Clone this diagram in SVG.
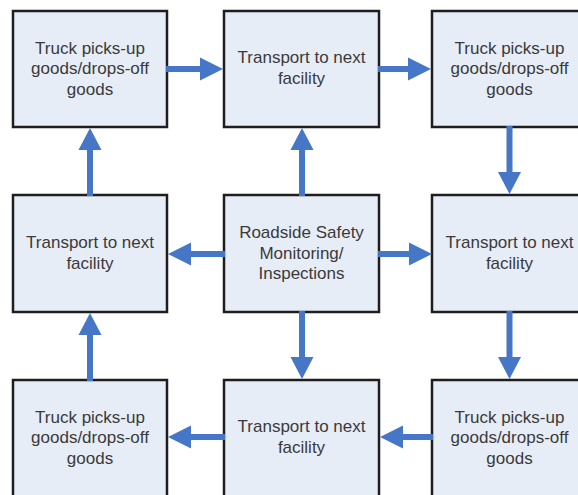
<svg xmlns="http://www.w3.org/2000/svg" width="578" height="495" viewBox="0 0 578 495">
<defs>
<style>
.box{fill:#E7EDF7;stroke:#1e1e1e;stroke-width:2.5}
.lbl{font-family:"Liberation Sans",Arial,sans-serif;font-size:17px;fill:#3a3a3a;text-anchor:middle}
.sh{stroke:#4677C6;stroke-width:6;fill:none}
.hd{fill:#4677C6}
</style>
</defs>
<rect width="578" height="495" fill="#ffffff"/>
<g id="n_tl"><rect class="box" x="13" y="11" width="154" height="116"/><text class="lbl"><tspan x="90" y="53.5">Truck picks-up</tspan><tspan x="90" y="74">goods/drops-off</tspan><tspan x="90" y="94.5">goods</tspan></text></g>
<g id="n_tm"><rect class="box" x="224" y="11" width="155" height="116"/><text class="lbl"><tspan x="301.5" y="63">Transport to next</tspan><tspan x="301.5" y="83.5">facility</tspan></text></g>
<g id="n_tr"><rect class="box" x="432" y="11" width="155" height="116"/><text class="lbl"><tspan x="509.5" y="53.5">Truck picks-up</tspan><tspan x="509.5" y="74">goods/drops-off</tspan><tspan x="509.5" y="94.5">goods</tspan></text></g>
<g id="n_ml"><rect class="box" x="13" y="195" width="154" height="117"/><text class="lbl"><tspan x="90" y="248">Transport to next</tspan><tspan x="90" y="268.5">facility</tspan></text></g>
<g id="n_mm"><rect class="box" x="224" y="195" width="155" height="117"/><text class="lbl"><tspan x="301.5" y="238">Roadside Safety</tspan><tspan x="301.5" y="258.5">Monitoring/</tspan><tspan x="301.5" y="279">Inspections</tspan></text></g>
<g id="n_mr"><rect class="box" x="432" y="195" width="155" height="117"/><text class="lbl"><tspan x="509.5" y="248">Transport to next</tspan><tspan x="509.5" y="268.5">facility</tspan></text></g>
<g id="n_bl"><rect class="box" x="13" y="380" width="154" height="118"/><text class="lbl"><tspan x="90" y="422.5">Truck picks-up</tspan><tspan x="90" y="443">goods/drops-off</tspan><tspan x="90" y="463.5">goods</tspan></text></g>
<g id="n_bm"><rect class="box" x="224" y="380" width="155" height="118"/><text class="lbl"><tspan x="301.5" y="432">Transport to next</tspan><tspan x="301.5" y="452.5">facility</tspan></text></g>
<g id="n_br"><rect class="box" x="432" y="380" width="155" height="118"/><text class="lbl"><tspan x="509.5" y="422.5">Truck picks-up</tspan><tspan x="509.5" y="443">goods/drops-off</tspan><tspan x="509.5" y="463.5">goods</tspan></text></g>
<g id="connectors">
<line class="sh" x1="166" y1="69" x2="202" y2="69"/><polygon class="hd" points="200,57.5 223,69 200,80.5"/>
<line class="sh" x1="378" y1="69" x2="410" y2="69"/><polygon class="hd" points="408,57.5 431,69 408,80.5"/>
<line class="sh" x1="509.5" y1="126" x2="509.5" y2="174"/><polygon class="hd" points="498,172 521,172 509.5,194"/>
<line class="sh" x1="302" y1="196" x2="302" y2="148"/><polygon class="hd" points="290.5,150 313.5,150 302,128"/>
<line class="sh" x1="225" y1="254" x2="189" y2="254"/><polygon class="hd" points="191,242.5 168,254 191,265.5"/>
<line class="sh" x1="378" y1="254" x2="411" y2="254"/><polygon class="hd" points="409,242.5 432,254 409,265.5"/>
<line class="sh" x1="302" y1="311" x2="302" y2="359"/><polygon class="hd" points="290.5,357 313.5,357 302,379"/>
<line class="sh" x1="509.5" y1="311" x2="509.5" y2="359"/><polygon class="hd" points="498,357 521,357 509.5,379"/>
<line class="sh" x1="433" y1="437" x2="401" y2="437"/><polygon class="hd" points="403,425.5 380,437 403,448.5"/>
<line class="sh" x1="225" y1="437" x2="189" y2="437"/><polygon class="hd" points="191,425.5 168,437 191,448.5"/>
<line class="sh" x1="90" y1="381" x2="90" y2="333"/><polygon class="hd" points="78.5,335 101.5,335 90,313"/>
<line class="sh" x1="90" y1="196" x2="90" y2="148"/><polygon class="hd" points="78.5,150 101.5,150 90,128"/>
</g>
</svg>
